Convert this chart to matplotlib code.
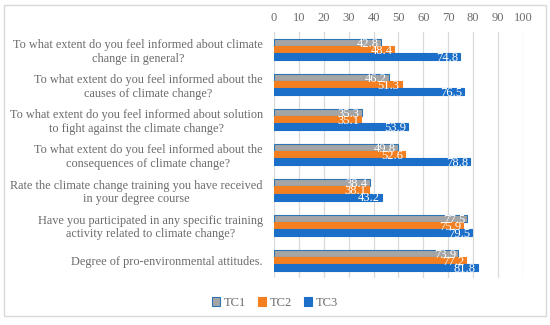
import matplotlib
matplotlib.use("Agg")
import matplotlib.pyplot as plt
import numpy as np
from matplotlib.patches import Rectangle

categories = [
    "To what extent do you feel informed about climate\nchange in general?",
    "To what extent do you feel informed about the\ncauses of climate change?",
    "To what extent do you feel informed about solution\nto fight against the climate change?",
    "To what extent do you feel informed about the\nconsequences of climate change?",
    "Rate the climate change training you have received\nin your degree course",
    "Have you participated in any specific training\nactivity related to climate change?",
    "Degree of pro-environmental attitudes.",
]
tc1 = [42.8, 46.2, 35.3, 49.8, 38.4, 77.5, 73.9]
tc2 = [48.4, 51.3, 35.1, 52.6, 38.1, 75.9, 77.2]
tc3 = [74.8, 76.5, 53.9, 78.8, 43.2, 79.5, 81.8]
series_names = ["TC1", "TC2", "TC3"]
xticks = list(range(0, 101, 10))

plt.rcParams['font.family'] = ['Liberation Serif', 'DejaVu Serif']

fig = plt.figure(figsize=(5.5, 3.25), dpi=100)
ax = fig.add_axes([0.498, 0.145, 0.453, 0.757])

colors = ["#A5A5A5", "#F47F20", "#1B6FC8"]
edges = ["#2E75B6", "#F47F20", "#1B6FC8"]
h = 0.2
y = np.arange(len(categories))
for i, (vals, name) in enumerate(zip([tc1, tc2, tc3], series_names)):
    pos = y + (i - 1) * h
    ax.barh(pos, vals, height=h, color=colors[i], edgecolor=edges[i],
            linewidth=0.8, label=name, zorder=3)
    for p, v in zip(pos, vals):
        ax.text(v - 0.8, p + 0.04, f"{v}", color="white", ha="right", va="center",
                fontsize=9, zorder=4)

ax.set_xlim(0, 100)
ax.set_ylim(len(categories) - 0.5, -0.5)
ax.set_xticks(xticks)
ax.xaxis.tick_top()
ax.set_yticks(y)
ax.set_yticklabels(categories, multialignment="center")
ax.tick_params(axis="both", length=0, colors="#6b6b6b", labelsize=9)
ax.tick_params(axis="y", labelsize=8.8, pad=8)
ax.tick_params(axis="x", pad=6)
ax.grid(axis="x", color="#D9D9D9", linewidth=0.9, zorder=0)
for s in ax.spines.values():
    s.set_visible(False)

leg = fig.legend(loc="center", bbox_to_anchor=(0.5, 0.068), ncol=3, frameon=False,
                 fontsize=9, handlelength=0.7, handleheight=0.7, handletextpad=0.3,
                 columnspacing=0.9, labelcolor="#6b6b6b")

fig.patches.append(Rectangle((0.008, 0.027), 0.984, 0.958, transform=fig.transFigure,
                             fill=False, edgecolor="#D9D9D9", linewidth=1.0))

fig.savefig("out.png", dpi=100)
